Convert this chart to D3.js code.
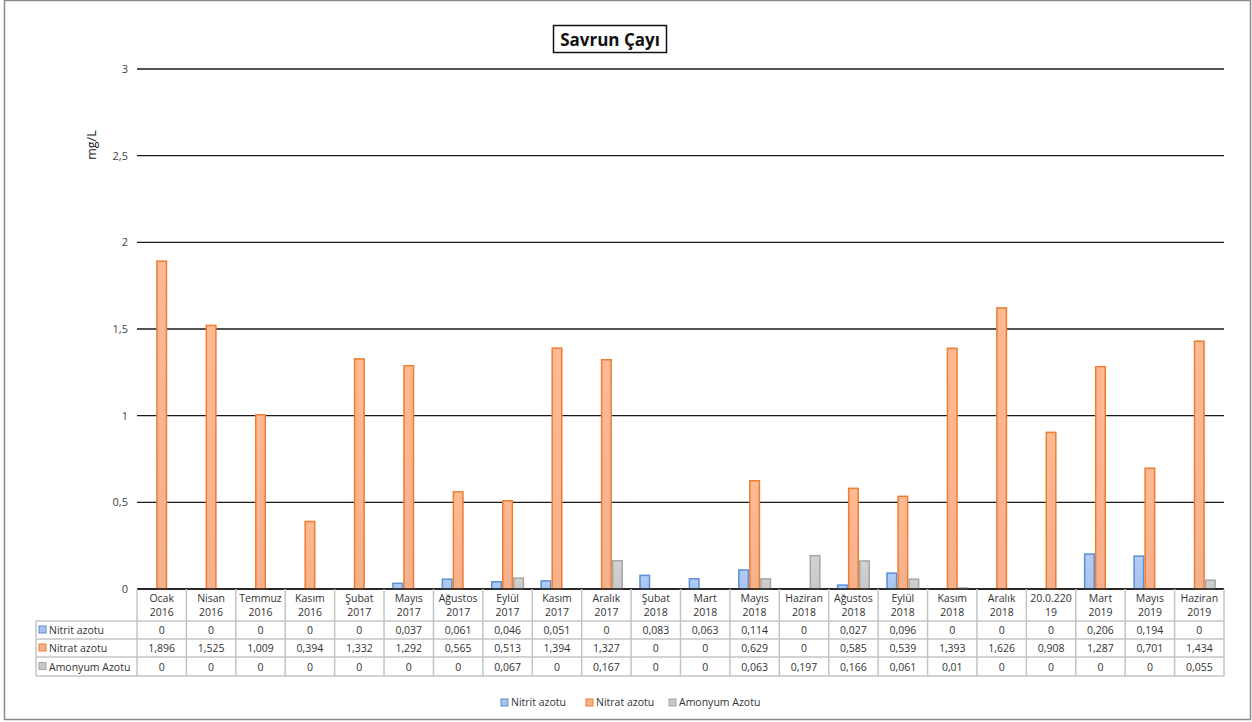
<!DOCTYPE html>
<html><head><meta charset="utf-8">
<script src="https://cdn.jsdelivr.net/npm/d3@7/dist/d3.min.js"></script>
<style>body{margin:0;background:#fff}svg{display:block;font-family:"Open Sans","Noto Sans",sans-serif}</style>
</head><body><svg id="c" width="1252" height="722"></svg>
<script>
const categories = ["Ocak|2016","Nisan|2016","Temmuz|2016","Kasım|2016","Şubat|2017","Mayıs|2017","Ağustos|2017","Eylül|2017","Kasım|2017","Aralık|2017","Şubat|2018","Mart|2018","Mayıs|2018","Haziran|2018","Ağustos|2018","Eylül|2018","Kasım|2018","Aralık|2018","20.0.220|19","Mart|2019","Mayıs|2019","Haziran|2019"];
const seriesNames = ["Nitrit azotu","Nitrat azotu","Amonyum Azotu"];
const nitrit = [0,0,0,0,0,0.037,0.061,0.046,0.051,0,0.083,0.063,0.114,0,0.027,0.096,0,0,0,0.206,0.194,0];
const nitrat = [1.896,1.525,1.009,0.394,1.332,1.292,0.565,0.513,1.394,1.327,0,0,0.629,0,0.585,0.539,1.393,1.626,0.908,1.287,0.701,1.434];
const amonyum = [0,0,0,0,0,0,0,0.067,0,0.167,0,0,0.063,0.197,0.166,0.061,0.01,0,0,0,0,0.055];
const yTicks = [0,0.5,1,1.5,2,2.5,3];
const series = [nitrit, nitrat, amonyum];
const fills = ["#A9C3EA","#F5B08C","#C8C8C8"];
const strokes = ["#5B8FD6","#ED7D31","#A5A5A5"];

const svg = d3.select("#c");
const fmt = v => String(v).replace(".", ",");
const pLeft = 137, pRight = 1224, pTop = 69, pBottom = 589;

svg.append("rect").attr("x",4.5).attr("y",0.5).attr("width",1246).attr("height",719)
  .attr("fill","none").attr("stroke","#8a8a8a").attr("stroke-width",1.5);

const x = d3.scaleBand().domain(d3.range(categories.length)).range([pLeft,pRight]);
const xs = d3.scaleBand().domain([0,1,2]).range([0, x.bandwidth()*0.67]);
const y = d3.scaleLinear().domain([0,3]).range([pBottom, pTop]);

svg.append("g").selectAll("line").data(yTicks).join("line")
  .attr("x1",pLeft).attr("x2",pRight).attr("y1",d=>y(d)).attr("y2",d=>y(d))
  .attr("stroke","#1a1a1a").attr("stroke-width",1.3);

const ya = svg.append("g").attr("transform",`translate(${pLeft},0)`)
  .call(d3.axisLeft(y).tickValues(yTicks).tickFormat(d=>fmt(d)).tickSize(0).tickPadding(9));
ya.select(".domain").remove();
ya.selectAll("text").attr("font-size",11).attr("fill","#444").attr("font-family","'Open Sans',sans-serif");

svg.append("text").attr("transform","translate(96,145) rotate(-90)").attr("text-anchor","middle")
  .attr("font-size",12.5).attr("fill","#222").text("mg/L");

const defs = svg.append("defs");
fills.forEach((f,i)=>{
  const g = defs.append("linearGradient").attr("id","g"+i).attr("x1",0).attr("x2",0).attr("y1",0).attr("y2",1);
  g.append("stop").attr("offset","0%").attr("stop-color",d3.color(f).brighter(0.15));
  g.append("stop").attr("offset","100%").attr("stop-color",f);
});

const groupOffset = (x.bandwidth() - x.bandwidth()*0.67)/2;
series.forEach((s,si)=>{
  svg.append("g").selectAll("rect").data(s.map((v,i)=>({v,i})).filter(d=>d.v>0)).join("rect")
    .attr("x",d=>x(d.i)+groupOffset+xs(si)+0.75)
    .attr("width",xs.bandwidth()-1.5)
    .attr("y",d=>y(d.v)+0.75)
    .attr("height",d=>Math.max(0,pBottom-y(d.v)-0.75))
    .attr("fill","url(#g"+si+")").attr("stroke",strokes[si]).attr("stroke-width",1.5);
});

svg.append("line").attr("x1",pLeft).attr("x2",pRight).attr("y1",pBottom).attr("y2",pBottom)
  .attr("stroke","#1a1a1a").attr("stroke-width",1.3);

svg.append("rect").attr("x",553.5).attr("y",25.5).attr("width",113).attr("height",27)
  .attr("fill","#fff").attr("stroke","#111").attr("stroke-width",1.5);
svg.append("text").attr("x",610).attr("y",45.5).attr("text-anchor","middle")
  .attr("font-size",17).attr("font-weight","bold").attr("fill","#111").text("Savrun Çayı");

const tb = svg.append("g");
const rowY = [589,621,639,657,676];
const tableLeft = 36;
const lc = "#C4C4C4";
const colEdges = d3.range(categories.length+1).map(i=> i<categories.length ? x(i) : pRight);
tb.selectAll("line.v").data(colEdges).join("line").attr("class","v")
  .attr("x1",d=>d).attr("x2",d=>d).attr("y1",pBottom).attr("y2",rowY[4])
  .attr("stroke",lc).attr("stroke-width",1.5);
tb.append("line").attr("x1",tableLeft).attr("x2",tableLeft).attr("y1",rowY[1]).attr("y2",rowY[4])
  .attr("stroke",lc).attr("stroke-width",1.5);
rowY.slice(1).forEach(ry=>{
  tb.append("line").attr("x1",tableLeft).attr("x2",pRight).attr("y1",ry).attr("y2",ry)
    .attr("stroke",lc).attr("stroke-width",1.5);
});
categories.forEach((c,i)=>{
  const parts = c.split("|");
  const cx = x(i)+x.bandwidth()/2;
  parts.forEach((p,k)=>{
    tb.append("text").attr("x",cx).attr("y",602+k*14).attr("text-anchor","middle")
      .attr("font-size",10.5).attr("fill","#333").text(p);
  });
});
series.forEach((s,si)=>{
  const cy = (rowY[si+1]+rowY[si+2])/2 + 4;
  tb.append("rect").attr("x",39).attr("y",cy-8).attr("width",7).attr("height",7)
    .attr("fill",fills[si]).attr("stroke",strokes[si]).attr("stroke-width",1);
  tb.append("text").attr("x",49).attr("y",cy).attr("font-size",10.5).attr("fill","#333").text(seriesNames[si]);
  s.forEach((v,i)=>{
    tb.append("text").attr("x",x(i)+x.bandwidth()/2).attr("y",cy).attr("text-anchor","middle")
      .attr("font-size",10.5).attr("fill","#333").text(fmt(v));
  });
});

const legX = [501,586,669];
seriesNames.forEach((n,i)=>{
  svg.append("rect").attr("x",legX[i]).attr("y",699).attr("width",7).attr("height",7)
    .attr("fill",fills[i]).attr("stroke",strokes[i]).attr("stroke-width",1);
  svg.append("text").attr("x",legX[i]+10).attr("y",706).attr("font-size",10.5).attr("fill","#333").text(n);
});
</script></body></html>
